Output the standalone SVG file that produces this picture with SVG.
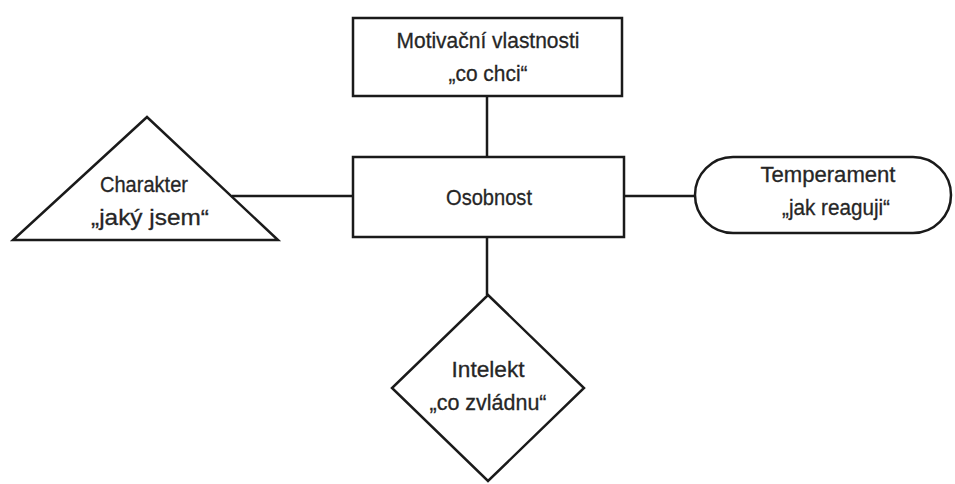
<svg xmlns="http://www.w3.org/2000/svg" width="955" height="484" viewBox="0 0 955 484">
<style>
.s{fill:#fff;stroke:#1a1a1a;stroke-width:2.5}
.c{stroke:#1a1a1a;stroke-width:2.5;fill:none}
text{font-family:"Liberation Sans",Arial,sans-serif;font-size:22px;fill:#262626;text-anchor:middle;stroke:#262626;stroke-width:0.3}
</style>
<rect width="955" height="484" fill="#fff"/>
<g id="connectors">
<line class="c" x1="487" y1="96" x2="487" y2="158"/>
<line class="c" x1="232" y1="196" x2="353" y2="196"/>
<line class="c" x1="624" y1="196" x2="695" y2="196"/>
<line class="c" x1="487" y1="237" x2="487" y2="295"/>
</g>
<g id="motivacni">
<rect class="s" x="353" y="18" width="269" height="78"/>
<text x="488" y="48" textLength="183" lengthAdjust="spacingAndGlyphs">Motivační vlastnosti</text>
<text x="488" y="81" textLength="79" lengthAdjust="spacingAndGlyphs">„co chci“</text>
</g>
<g id="osobnost">
<rect class="s" x="353" y="157" width="271" height="80"/>
<text x="489" y="205" textLength="86" lengthAdjust="spacingAndGlyphs">Osobnost</text>
</g>
<g id="charakter">
<polygon class="s" points="147,117 13,240 278,240"/>
<text x="144" y="192" textLength="88" lengthAdjust="spacingAndGlyphs">Charakter</text>
<text x="150" y="225" textLength="118" lengthAdjust="spacingAndGlyphs">„jaký jsem“</text>
</g>
<g id="temperament">
<rect class="s" x="695" y="157" width="256" height="76" rx="38" ry="38"/>
<text x="828" y="182" textLength="135" lengthAdjust="spacingAndGlyphs">Temperament</text>
<text x="836" y="215" textLength="108" lengthAdjust="spacingAndGlyphs">„jak reaguji“</text>
</g>
<g id="intelekt">
<polygon class="s" points="488,295 584,388 488,481 392,388"/>
<text x="488" y="377" textLength="73" lengthAdjust="spacingAndGlyphs">Intelekt</text>
<text x="488" y="410" textLength="117" lengthAdjust="spacingAndGlyphs">„co zvládnu“</text>
</g>
</svg>
